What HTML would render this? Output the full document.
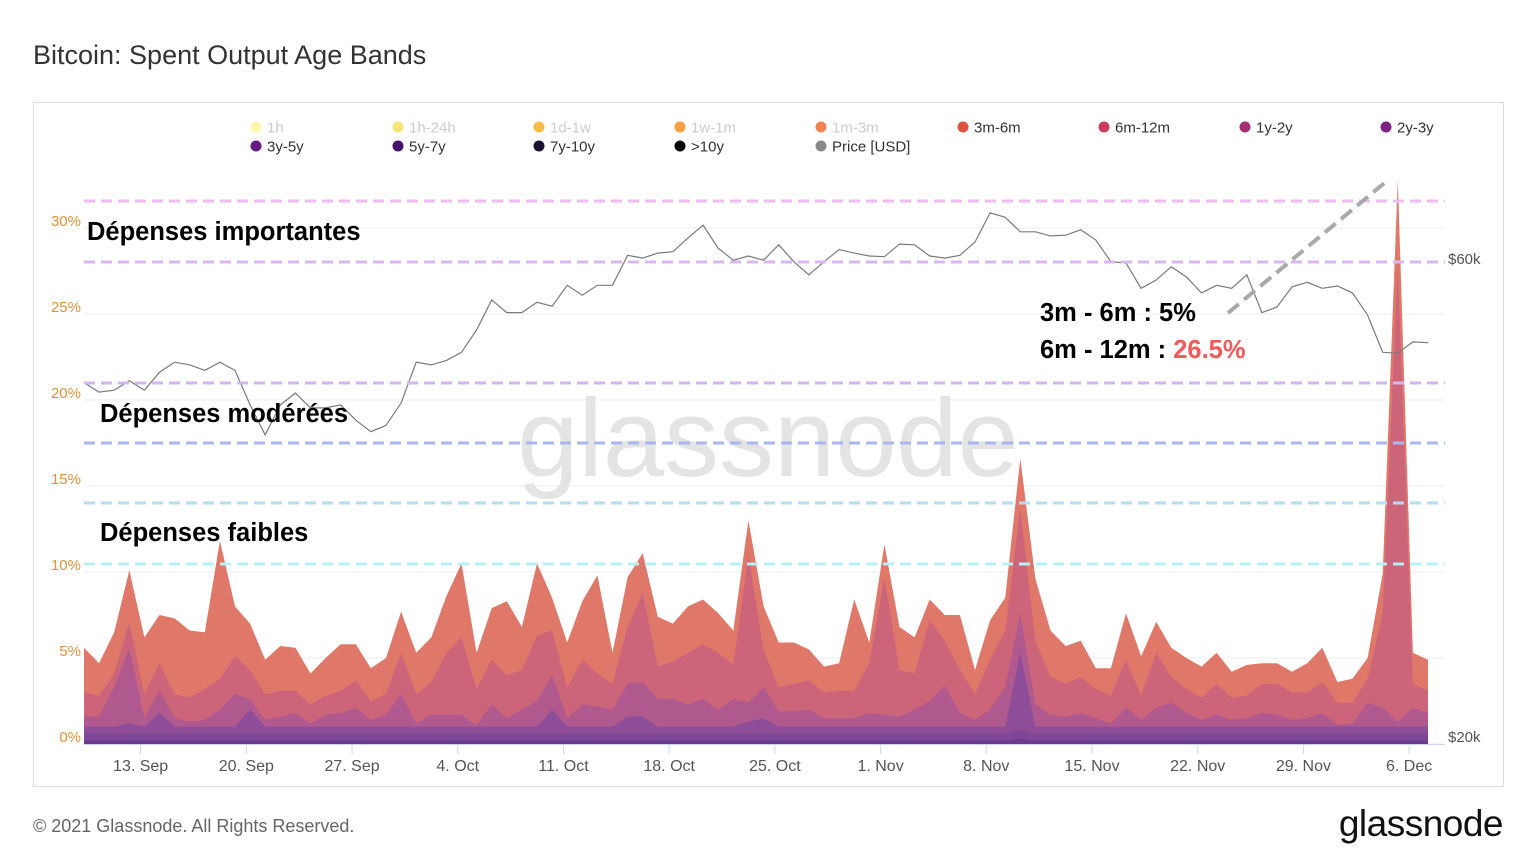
<!DOCTYPE html>
<html><head><meta charset="utf-8">
<style>
html,body{margin:0;padding:0;background:#fff;}
body{width:1536px;height:864px;position:relative;overflow:hidden;font-family:"Liberation Sans",sans-serif;}
svg{position:absolute;left:0;top:0;}
</style></head>
<body>
<svg id="chart" width="1536" height="864" viewBox="0 0 1536 864" xmlns="http://www.w3.org/2000/svg">
  <text x="33" y="64" font-size="27" fill="#333" font-family="Liberation Sans, sans-serif">Bitcoin: Spent Output Age Bands</text>
  <rect x="33.5" y="102.5" width="1470" height="684" fill="none" stroke="#dcdcdc"/>
  <g id="grid"></g>
  <text x="768" y="476" font-size="110" fill="#e4e4e4" text-anchor="middle" font-family="Liberation Sans, sans-serif">glassnode</text>
  <g id="areas"></g>
  <g id="price"></g>
  <g id="axes"></g>
  <g id="annot"></g>
  <g id="legend"></g>
  <text x="33" y="832" font-size="18" fill="#666" font-family="Liberation Sans, sans-serif">© 2021 Glassnode. All Rights Reserved.</text>
  <text x="1503" y="836" font-size="37" fill="#111" text-anchor="end" font-family="Liberation Sans, sans-serif" letter-spacing="-0.5">glassnode</text>
</svg>
<script>
const s3m6m=[2.6,1.9,2.4,3.0,3.3,2.8,4.4,3.9,3.3,8.0,2.9,2.7,2.0,2.6,2.5,1.8,2.2,2.7,2.1,1.9,2.1,2.4,2.4,2.6,3.3,4.3,2.1,3.0,4.3,2.5,4.2,1.9,2.6,3.4,5.7,1.8,2.9,2.3,2.9,2.2,2.7,2.6,2.3,2.0,2.0,2.5,2.6,2.4,1.8,1.5,1.6,5.3,1.2,1.9,2.5,2.1,1.2,1.5,3.2,1.4,2.3,1.9,2.9,3.6,2.7,2.2,2.1,1.2,1.6,2.7,2.3,1.8,1.7,1.8,1.8,1.8,1.5,1.8,1.2,1.2,1.2,1.7,2.0,1.2,1.4,1.2,2.3,5.0,1.8,1.8];
const s6m12m=[1.4,1.2,0.8,1.5,1.4,1.6,1.4,1.4,1.8,1.8,2.2,1.7,1.5,1.5,1.3,1.1,1.1,1.3,1.6,1.1,1.2,2.4,1.7,1.9,3.6,4.5,2.1,2.6,2.5,2.3,3.8,2.6,1.8,2.6,1.9,1.5,3.3,5.2,1.9,2.2,3.0,3.2,3.3,2.0,8.6,2.2,1.4,1.6,1.7,1.5,1.6,1.6,2.9,8.0,2.7,2.1,4.7,2.6,2.5,1.5,2.9,3.3,6.1,3.7,2.2,1.9,2.1,1.7,1.6,2.8,1.4,3.2,1.5,1.4,1.3,1.8,1.3,1.3,1.7,1.8,1.6,1.5,1.8,1.3,1.2,1.4,5.5,26.5,1.4,1.3];
const s1y2y=[0.6,0.6,2.3,4.4,0.5,1.3,0.5,0.3,0.4,1.0,1.9,0.6,0.4,0.6,0.8,0.2,0.7,0.8,1.1,0.4,0.7,1.9,0.2,0.7,0.7,0.7,0.1,1.3,0.5,1.0,1.5,2.0,0.5,1.3,1.2,1.0,1.9,2.0,1.6,1.6,1.3,1.6,1.0,1.6,1.1,1.8,0.9,0.9,1.0,0.5,0.5,0.5,0.8,0.7,0.6,1.0,1.5,2.4,0.8,0.4,1.0,2.3,2.3,1.3,0.7,0.6,0.8,0.5,0.2,1.1,0.4,1.1,1.4,0.8,0.4,0.7,0.4,0.5,0.8,0.7,0.4,0.5,0.8,0.1,0.2,1.4,1.1,0.3,1.1,0.8];
const s2y3y=[0.4,0.4,0.4,0.6,0.4,1.2,0.4,0.4,0.4,0.4,0.4,1.4,0.4,0.4,0.4,0.4,0.4,0.4,0.4,0.4,0.4,0.4,0.4,0.4,0.4,0.4,0.4,0.4,0.4,0.4,0.4,1.4,0.4,0.4,0.4,0.4,1.0,1.0,0.4,0.4,0.4,0.4,0.4,0.4,0.7,0.9,0.4,0.4,0.4,0.4,0.4,0.4,0.4,0.4,0.4,0.4,0.4,0.4,0.4,0.4,0.4,0.4,4.5,0.4,0.4,0.4,0.4,0.4,0.4,0.4,0.4,0.4,0.4,0.4,0.4,0.4,0.4,0.4,0.4,0.4,0.4,0.4,0.4,0.4,0.4,0.4,0.4,0.4,0.4,0.4];
const s3y5y=[0.4,0.4,0.4,0.4,0.4,0.4,0.4,0.4,0.4,0.4,0.4,0.4,0.4,0.4,0.4,0.4,0.4,0.4,0.4,0.4,0.4,0.4,0.4,0.4,0.4,0.4,0.4,0.4,0.4,0.4,0.4,0.4,0.4,0.4,0.4,0.4,0.4,0.4,0.4,0.4,0.4,0.4,0.4,0.4,0.4,0.4,0.4,0.4,0.4,0.4,0.4,0.4,0.4,0.4,0.4,0.4,0.4,0.4,0.4,0.4,0.4,0.4,0.5,0.4,0.4,0.4,0.4,0.4,0.4,0.4,0.4,0.4,0.4,0.4,0.4,0.4,0.4,0.4,0.4,0.4,0.4,0.4,0.4,0.4,0.4,0.4,0.4,0.4,0.4,0.4];
const s5y7y=[0.2,0.2,0.2,0.2,0.2,0.2,0.2,0.2,0.2,0.2,0.2,0.2,0.2,0.2,0.2,0.2,0.2,0.2,0.2,0.2,0.2,0.2,0.2,0.2,0.2,0.2,0.2,0.2,0.2,0.2,0.2,0.2,0.2,0.2,0.2,0.2,0.2,0.2,0.2,0.2,0.2,0.2,0.2,0.2,0.2,0.2,0.2,0.2,0.2,0.2,0.2,0.2,0.2,0.2,0.2,0.2,0.2,0.2,0.2,0.2,0.2,0.2,0.3,0.2,0.2,0.2,0.2,0.2,0.2,0.2,0.2,0.2,0.2,0.2,0.2,0.2,0.2,0.2,0.2,0.2,0.2,0.2,0.2,0.2,0.2,0.2,0.2,0.2,0.2,0.2];
const priceUSD=[45900,44900,45100,46100,45100,47000,48100,47800,47200,48100,47200,43600,40700,43600,44800,43300,43300,43600,42100,41000,41600,43800,48100,47800,48300,49200,51800,55500,53900,53900,55200,54700,57400,56100,57400,57400,61500,61100,61800,62000,64000,65900,62500,60800,61400,60800,63000,60600,58800,60600,62300,61800,61400,61300,63100,63000,61400,61100,61500,63400,67800,67100,64900,64900,64300,64400,65200,63700,60600,60400,57000,58100,59900,58500,56400,57400,57000,58800,53900,54600,57200,57800,57000,57300,56400,53600,49200,49100,50400,50300];
const yTicks=[0,5,10,15,20,25,30];
const priceTicks=[20000,60000];
const priceTickLabels=["$20k","$60k"];
const xTickLabels=["13. Sep","20. Sep","27. Sep","4. Oct","11. Oct","18. Oct","25. Oct","1. Nov","8. Nov","15. Nov","22. Nov","29. Nov","6. Dec"];
const xTickIndex=[3.75,10.75,17.75,24.75,31.75,38.75,45.75,52.75,59.75,66.75,73.75,80.75,87.75];

const NS="http://www.w3.org/2000/svg";
const X0=84,X1=1428,PL=84,PR=1445,Y0=744,PXPCT=17.2;
const N=s3m6m.length;
const xs=i=>X0+i*(X1-X0)/(N-1);
const ys=v=>Y0-v*PXPCT;
const yp=p=>Y0-Math.log(p/20000)/Math.log(3)*478;
function mk(tag,attrs,parent){const e=document.createElementNS(NS,tag);for(const k in attrs)e.setAttribute(k,attrs[k]);parent.appendChild(e);return e;}

const grid=document.getElementById('grid');
const axes=document.getElementById('axes');
yTicks.forEach(t=>{
  const l=mk('line',{x1:PL,x2:PR,y1:ys(t),y2:ys(t),stroke:'#ececec','stroke-width':1},grid);
  
  
  const tx=mk('text',{x:81,y:ys(t)-2,'text-anchor':'end','font-size':15,fill:'#e0923a','font-family':'Liberation Sans, sans-serif'},axes);
  tx.textContent=t+'%';
  
  
});
priceTicks.forEach((p,k)=>{
  const tx=mk('text',{x:1448,y:yp(p)-2,'font-size':15,fill:'#555','font-family':'Liberation Sans, sans-serif'},axes);
  tx.textContent=priceTickLabels[k];
  
  
});
mk('line',{x1:PL,x2:PR,y1:Y0+0.5,y2:Y0+0.5,stroke:'#ccd6eb'},axes);
xTickIndex.forEach((ti,k)=>{
  const x=xs(ti);
  const tk=mk('line',{x1:x,x2:x,y1:Y0,y2:Y0+10,stroke:'#ccd6eb'},axes);
  
  
  const tx=mk('text',{x:x,y:771,'text-anchor':'middle','font-size':16,fill:'#555','font-family':'Liberation Sans, sans-serif'},axes);
  tx.textContent=xTickLabels[k];
  
  
});

const series=[
  {name:'5y-7y',d:s5y7y,c:'#6a3a8c'},
  {name:'3y-5y',d:s3y5y,c:'#7e4696'},
  {name:'2y-3y',d:s2y3y,c:'#8e4d99'},
  {name:'1y-2y',d:s1y2y,c:'#b0598e'},
  {name:'6m-12m',d:s6m12m,c:'#cd657a'},
  {name:'3m-6m',d:s3m6m,c:'#e0786a'}
];
const cum=[];let run=new Array(N).fill(0);
series.forEach(s=>{run=run.map((v,i)=>v+s.d[i]);cum.push(run.slice());});
const areas=document.getElementById('areas');
for(let k=series.length-1;k>=0;k--){
  let d='M'+xs(0)+','+Y0;
  for(let i=0;i<N;i++)d+=' L'+xs(i).toFixed(1)+','+ys(cum[k][i]).toFixed(1);
  d+=' L'+xs(N-1)+','+Y0+' Z';
  const p=mk('path',{d:d,fill:series[k].c,stroke:'none'},areas);
  
  
}
let pd='';
priceUSD.forEach((p,i)=>{pd+=(i?' L':'M')+xs(i).toFixed(1)+','+yp(p).toFixed(1);});
const pl=mk('path',{d:pd,fill:'none',stroke:'#7a7a7a','stroke-width':1.2},document.getElementById('price'));



const an=document.getElementById('annot');
[[201,'#efbdf2'],[262,'#d9b8f2'],[383,'#d2b6f2'],[443,'#aab6ee'],[503,'#b6def2'],[564,'#b6f0f2']].forEach(([y,c])=>{
  const l=mk('line',{x1:84,x2:1445,y1:y,y2:y,stroke:c,'stroke-width':3,'stroke-dasharray':'11 6'},an);
  
  
});
const dl=mk('line',{x1:1228,y1:313,x2:1388,y2:180,stroke:'#a9a9a9','stroke-width':4,'stroke-dasharray':'14 7'},an);


function label(txt,x,y,name,size){const t=mk('text',{x:x,y:y,'font-size':size||25.5,'font-weight':'bold',fill:'#000','font-family':'Liberation Sans, sans-serif'},an);t.textContent=txt;return t;}
label('Dépenses importantes',87,240,'label-large-spending');
label('Dépenses modérées',100,422,'label-moderate-spending');
label('Dépenses faibles',100,541,'label-low-spending');
label('3m - 6m : 5%',1040,321,'annotation-3m-6m');
const t2=label('6m - 12m : ',1040,358,'annotation-6m-12m');
const red=document.createElementNS(NS,'tspan');red.setAttribute('fill','#f05a5a');red.textContent='26.5%';t2.appendChild(red);

const lg=document.getElementById('legend');
const legendNames=['1h','1h-24h','1d-1w','1w-1m','1m-3m','3m-6m','6m-12m','1y-2y','2y-3y','3y-5y','5y-7y','7y-10y','>10y','Price [USD]'];
const legendColors=['#fbf5a0','#f6df5e','#f5b024','#f58f22','#ef6f32','#e2513f','#c93c5e','#a52f72','#7d2283','#641a82','#45146e','#1c1030','#000000','#888888'];
const legendOn=[false,false,false,false,false,true,true,true,true,true,true,true,true,true];
const colX=[250,392,533,674,815,957,1098,1239,1380];
legendNames.forEach((n,k)=>{
  const r=k<9?0:1, c=k<9?k:k-9;
  const g=mk('g',{},lg);
  
  
  const y=r?146:127;
  mk('circle',{cx:colX[c]+6,cy:y,r:5.5,fill:legendColors[k],opacity:legendOn[k]?1:0.85},g);
  const t=mk('text',{x:colX[c]+17,y:y+5.5,'font-size':15,fill:legendOn[k]?'#333':'#cccccc','font-family':'Liberation Sans, sans-serif'},g);
  t.textContent=n;
});
</script>
</body></html>
